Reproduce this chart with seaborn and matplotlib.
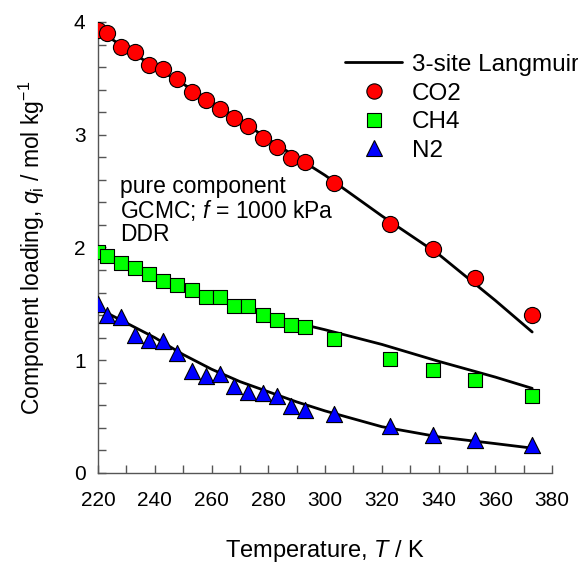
import numpy as np
import pandas as pd
import matplotlib
matplotlib.use('Agg')
import matplotlib.pyplot as plt
import seaborn as sns
from matplotlib.lines import Line2D
from matplotlib.ticker import MultipleLocator

# simulation data (GCMC, pure component, f = 1000 kPa)
T_sim = [220, 223, 228, 233, 238, 243, 248, 253, 258, 263, 268, 273, 278,
         283, 288, 293, 303, 323, 338, 353, 373]
q_co2 = [3.93, 3.90, 3.78, 3.73, 3.62, 3.58, 3.49, 3.38, 3.31, 3.23, 3.15,
         3.08, 2.97, 2.89, 2.79, 2.76, 2.57, 2.21, 1.99, 1.73, 1.40]
q_ch4 = [1.96, 1.92, 1.86, 1.82, 1.76, 1.70, 1.67, 1.62, 1.56, 1.56, 1.48,
         1.48, 1.40, 1.36, 1.31, 1.29, 1.19, 1.01, 0.91, 0.82, 0.68]
q_n2 = [1.50, 1.40, 1.38, 1.22, 1.18, 1.17, 1.06, 0.90, 0.86, 0.88, 0.77,
        0.72, 0.71, 0.68, 0.59, 0.56, 0.52, 0.42, 0.34, 0.29, 0.25]

# 3-site Langmuir fit curves
T_fit = [220, 230, 240, 250, 260, 270, 280, 290, 300, 320, 340, 360, 373]
fit_co2 = [3.93, 3.76, 3.60, 3.45, 3.29, 3.13, 2.96, 2.80, 2.64, 2.28, 1.94, 1.53, 1.25]
fit_ch4 = [1.95, 1.85, 1.75, 1.65, 1.56, 1.47, 1.40, 1.33, 1.27, 1.14, 0.99, 0.85, 0.75]
fit_n2 = [1.46, 1.33, 1.20, 1.05, 0.92, 0.81, 0.72, 0.63, 0.55, 0.41, 0.32, 0.26, 0.22]

species = ['CO2', 'CH4', 'N2']
colors = {'CO2': '#FF0000', 'CH4': '#00FF00', 'N2': '#0000FF'}
markers = {'CO2': 'o', 'CH4': 's', 'N2': '^'}
sizes = {'CO2': 135, 'CH4': 105, 'N2': 135}

df_sim = pd.DataFrame({
    'T': T_sim * 3,
    'q': q_co2 + q_ch4 + q_n2,
    'gas': ['CO2'] * len(T_sim) + ['CH4'] * len(T_sim) + ['N2'] * len(T_sim),
})
df_fit = pd.DataFrame({
    'T': T_fit * 3,
    'q': fit_co2 + fit_ch4 + fit_n2,
    'gas': ['CO2'] * len(T_fit) + ['CH4'] * len(T_fit) + ['N2'] * len(T_fit),
})

sns.set_style('white')
plt.rcParams['font.family'] = ['Liberation Sans', 'DejaVu Sans']
plt.rcParams['mathtext.fontset'] = 'custom'
plt.rcParams['mathtext.rm'] = 'Liberation Sans'
plt.rcParams['mathtext.it'] = 'Liberation Sans:italic'
plt.rcParams['text.color'] = 'black'
plt.rcParams['axes.labelcolor'] = 'black'

fig = plt.figure(figsize=(5.78, 5.63), dpi=100)
ax = fig.add_axes([0.1696, 0.160, 0.7855, 0.801])

for g in species:
    sns.lineplot(data=df_fit[df_fit['gas'] == g], x='T', y='q', color='black',
                 lw=2.0, sort=False, estimator=None, ax=ax, zorder=2, legend=False)
for g in species:
    sns.scatterplot(data=df_sim[df_sim['gas'] == g], x='T', y='q',
                    color=colors[g], marker=markers[g], s=sizes[g],
                    edgecolor='black', linewidth=0.8, ax=ax, zorder=3, legend=False)

ax.set_xlim(220, 380)
ax.set_ylim(0, 4)
ax.xaxis.set_major_locator(MultipleLocator(20))
ax.xaxis.set_minor_locator(MultipleLocator(10))
ax.yaxis.set_major_locator(MultipleLocator(1))
ax.yaxis.set_minor_locator(MultipleLocator(0.2))
ax.tick_params(which='both', direction='in', length=6, width=1, color='#555555',
               labelcolor='black', labelsize=15, bottom=True, left=True)
ax.tick_params(axis='x', pad=13)
ax.tick_params(axis='y', pad=9)
for s in ['top', 'right']:
    ax.spines[s].set_visible(False)
for s in ['left', 'bottom']:
    ax.spines[s].set_color('#555555')
    ax.spines[s].set_linewidth(1)

ax.set_xlabel('Temperature, $T$ / K', fontsize=17, labelpad=20)
ax.set_ylabel('Component loading, $q_\\mathrm{i}$ / mol kg$^{-1}$', fontsize=16.5, labelpad=19)

ax.text(0.048, 0.583, 'pure component\nGCMC; $f$ = 1000 kPa\nDDR', transform=ax.transAxes,
        fontsize=16.5, va='center', ha='left', linespacing=1.0)

handles = [Line2D([0], [0], color='black', lw=2.0, label='3-site Langmuir')]
for g in species:
    handles.append(Line2D([0], [0], marker=markers[g], color='none',
                          markerfacecolor=colors[g], markeredgecolor='black',
                          markeredgewidth=0.8, markersize=11 if g != 'CH4' else 10, label=g))
ax.legend(handles=handles, loc='upper left', bbox_to_anchor=(0.544, 0.929),
          frameon=False, fontsize=17.5, handlelength=2.35, handletextpad=0.4,
          labelspacing=0.27, borderaxespad=0, borderpad=0)

fig.savefig('out.png', dpi=100)
